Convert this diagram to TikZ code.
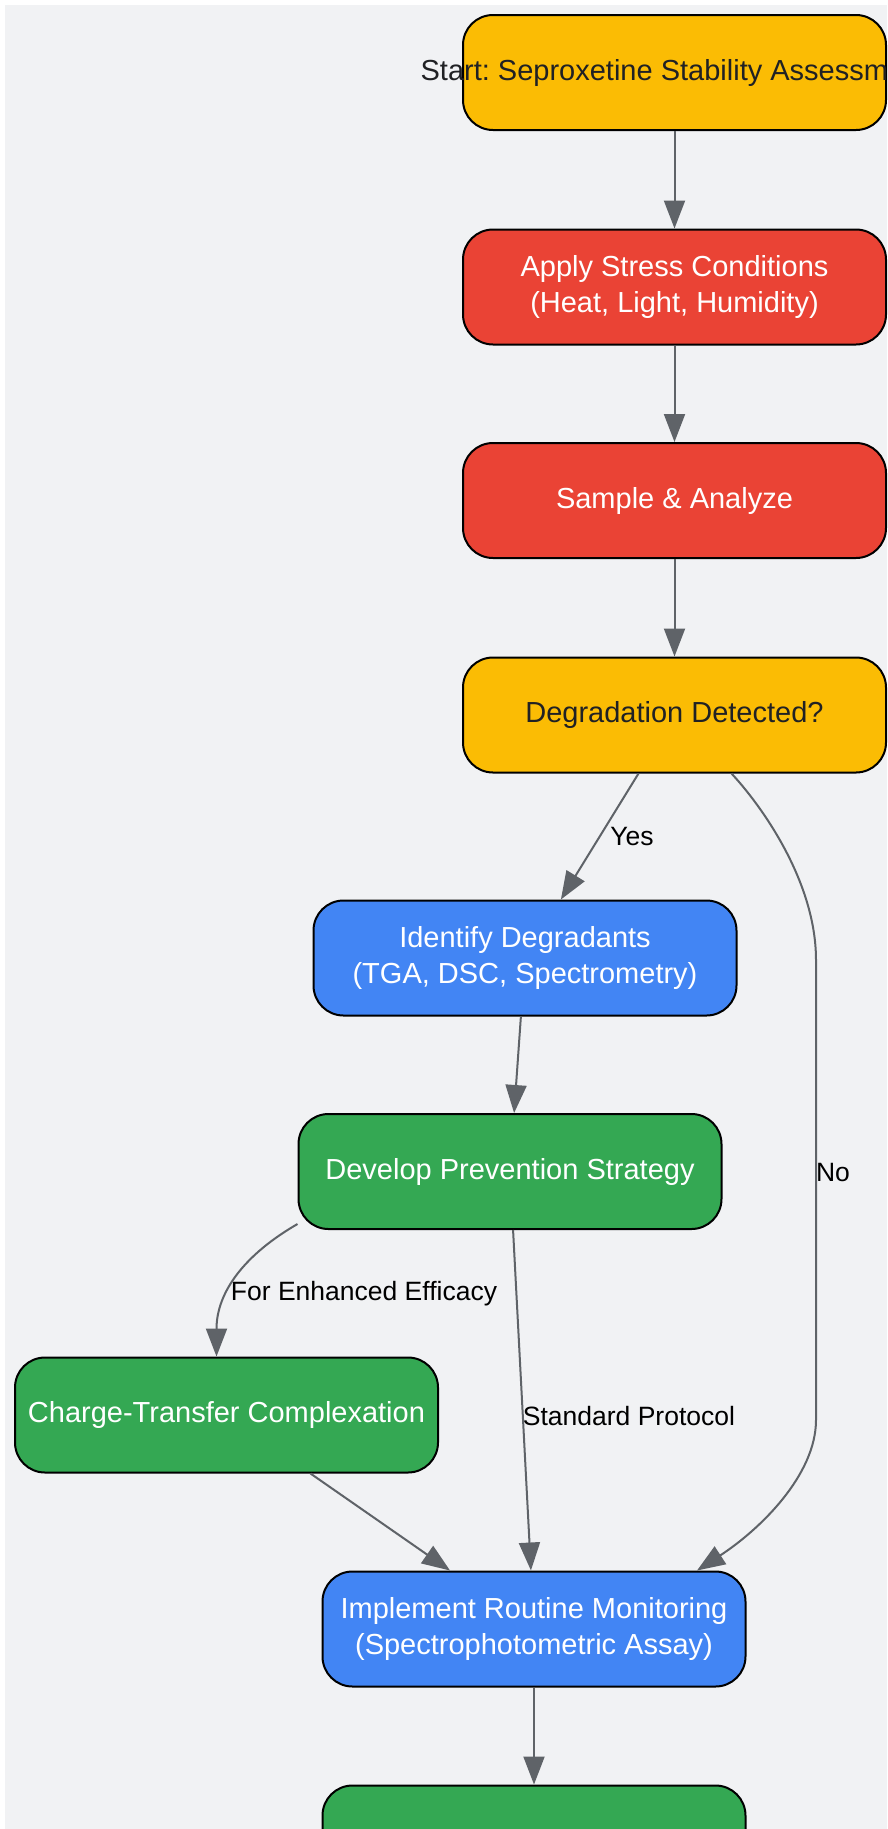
\documentclass[tikz,border=0pt]{standalone}
\usepackage{fontspec}
\setmainfont{Liberation Sans}
\usetikzlibrary{arrows.meta}
\definecolor{stageyellow}{HTML}{FBBC04}
\definecolor{stagered}{HTML}{EA4335}
\definecolor{stageblue}{HTML}{4285F4}
\definecolor{stagegreen}{HTML}{34A853}
\definecolor{darktext}{HTML}{202124}
\definecolor{flowgray}{HTML}{5F6368}
\definecolor{canvasgray}{HTML}{F1F2F4}
\frenchspacing

\begin{document}
\begin{tikzpicture}[x=1pt, y=-1pt,
    box/.style={draw=black, line width=2pt, rounded corners=30pt, minimum width=423pt,
      minimum height=115pt, inner sep=0pt, align=center, text=white,
      font=\fontsize{29}{36}\selectfont},
    flow/.style={draw=flowgray, line width=2pt, -{Triangle[length=28pt, width=21pt]}},
    lbl/.style={text=black, font=\fontsize{26.5}{32}\selectfont}]
    \useasboundingbox (0,0) rectangle (887,1829);
    \clip (0,0) rectangle (887,1829);
    \fill[white] (0,0) rectangle (887,1829);
    \fill[canvasgray] (4.5,4.5) rectangle (887,1829);

    \node[box, fill=stageyellow, text=darktext] (start) at (674.5,72.5)
      {\makebox[0pt]{Start: Seproxetine Stability Assessment}};
    \node[box, fill=stagered] (stress) at (674.5,287) {Apply Stress Conditions\\(Heat, Light, Humidity)};
    \node[box, fill=stagered] (sample) at (674.5,500.5) {Sample \& Analyze};
    \node[box, fill=stageyellow, text=darktext] (detect) at (674.5,715) {Degradation Detected?};
    \node[box, fill=stageblue] (ident) at (525,958) {Identify Degradants\\(TGA, DSC, Spectrometry)};
    \node[box, fill=stagegreen] (prevent) at (510,1171.5) {Develop Prevention Strategy};
    \node[box, fill=stagegreen] (ctc) at (226.5,1415) {Charge-Transfer Complexation};
    \node[box, fill=stageblue] (monitor) at (534,1629) {Implement Routine Monitoring\\(Spectrophotometric Assay)};
    \node[box, fill=stagegreen] (store) at (534,1843) {};

    \draw[flow] (start) -- (stress);
    \draw[flow] (stress) -- (sample);
    \draw[flow] (sample) -- (detect);
    \draw[flow] (detect) -- (ident);
    \draw[flow] (ident) -- (prevent);
    \draw[flow] (prevent) -- (monitor);
    \draw[flow] (ctc) -- (monitor);
    \draw[flow] (monitor) -- (store);
    \draw[flow] ([yshift=6pt]prevent.south west) .. controls +(-52,30) and +(0,-65) .. ([xshift=-10pt]ctc.north);
    \draw[flow] ([xshift=57pt]detect.south) .. controls +(28,30) and +(0,-80) .. (816,960)
      -- (816,1420) .. controls +(0,55) and +(63,-41) .. ([xshift=163pt]monitor.north);

    \node[lbl] (yes) at (632,837) {Yes};
    \node[lbl] (no) at (833,1172) {No};
    \node[lbl] (enhanced) at (364,1294) {For Enhanced Efficacy};
    \node[lbl] (standard) at (629,1416) {Standard Protocol};
\end{tikzpicture}
\end{document}
